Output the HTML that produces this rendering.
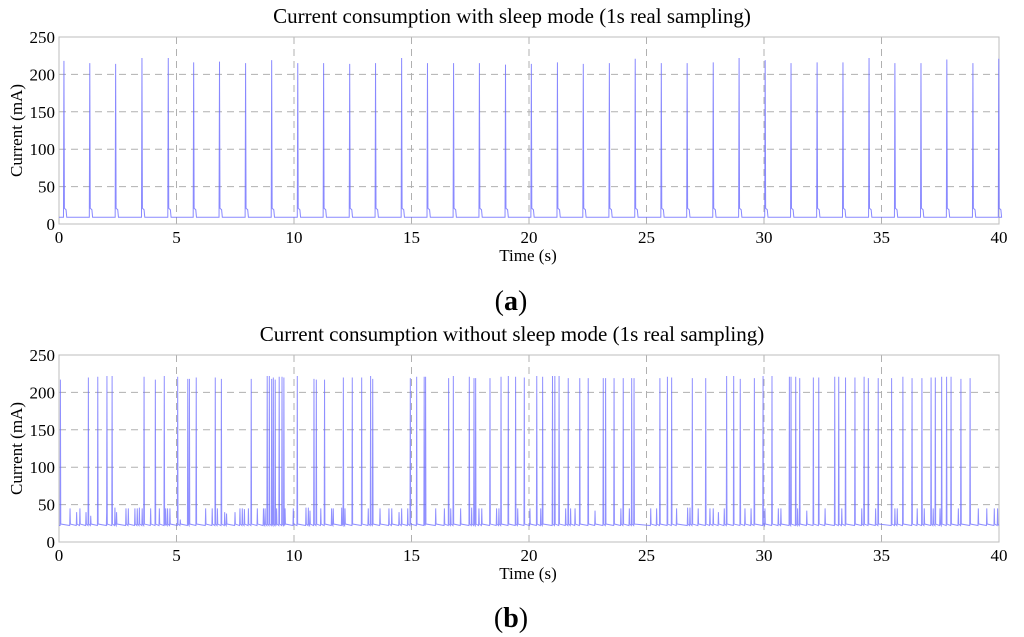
<!DOCTYPE html>
<html><head><meta charset="utf-8"><style>
html,body{margin:0;padding:0;background:#fff;}
svg{display:block;font-family:"Liberation Serif",serif;}
</style></head><body>
<svg id="chart" width="1024" height="637" viewBox="0 0 1024 637" xmlns="http://www.w3.org/2000/svg"></svg>
<script>
// Panel (a) data: spike times (s) and peak currents (mA)
const aSpikeTimes = [0.21,1.31,2.41,3.53,4.65,5.73,6.83,7.94,9.05,10.16,11.26,12.37,13.47,14.58,15.68,16.79,17.89,19.0,20.1,21.21,22.31,23.42,24.52,25.63,26.73,27.84,28.94,30.05,31.15,32.26,33.36,34.47,35.57,36.68,37.78,38.89,39.99];
const aSpikePeaks = [218,215,214,222,222,216,217,215,219,215,215,214,215,222,215,215,215,213,214,216,214,215,221,215,215,216,222,219,215,216,216,222,215,215,220,215,221];
const aBaseline = 9;
const aTail = 21;
// Panel (b) data
const bBigTimes = [0.06,1.25,1.65,2.04,2.26,3.62,4.10,4.48,5.05,5.48,5.55,5.84,6.65,6.91,8.18,8.86,8.95,9.05,9.12,9.2,9.37,9.49,9.57,10.14,10.85,10.95,11.3,12.1,12.48,12.88,13.26,13.35,14.95,15.22,15.54,15.6,16.58,16.78,17.46,17.66,17.73,18.34,18.81,19.12,19.43,19.8,20.33,20.58,21.0,21.1,21.28,21.67,22.16,22.52,23.16,23.26,23.62,24.01,24.37,24.47,25.57,25.89,26.07,26.95,27.52,28.41,28.71,28.99,29.59,29.96,30.34,31.08,31.15,31.35,31.52,32.1,32.33,33.01,33.18,33.47,33.87,34.26,34.44,34.86,35.43,35.91,36.3,36.72,37.11,37.29,37.56,37.77,37.96,38.38,38.77];
const bBigPeaks = [217,220,221,222,222,221,217,222,221,218,218,220,220,218,218,222,222,218,220,217,221,221,220,222,218,217,217,220,220,220,222,218,219,221,221,221,219,222,221,219,219,219,221,222,221,220,222,221,222,222,222,219,219,219,219,219,219,219,219,219,219,221,220,219,219,222,222,218,219,222,222,221,221,221,219,220,220,221,221,220,220,221,219,219,219,221,219,219,220,220,221,221,221,218,219];
const bSmallTimes = [0.47,0.75,0.89,1.15,1.35,2.03,2.38,2.45,2.85,2.95,3.23,3.33,3.42,3.54,3.9,4.27,4.54,4.62,4.72,5.16,6.24,6.52,6.74,7.05,7.13,7.49,7.7,7.8,7.89,8.06,8.44,8.7,8.77,9.26,9.62,9.97,10.51,10.61,10.68,11.14,11.6,11.67,12.03,12.17,13.16,13.66,14.04,14.16,14.47,14.58,14.84,16.03,16.4,16.67,17.09,17.56,17.87,17.99,18.62,18.72,19.52,20.04,20.5,21.56,21.77,21.96,22.81,23.91,24.27,25.18,25.43,26.28,26.75,26.85,27.2,27.7,27.84,28.06,28.31,29.19,29.45,30.04,30.61,30.72,31.43,31.82,32.6,33.31,34.16,34.75,35.57,35.67,36.52,36.82,37.2,37.49,38.27,39.12,39.48,39.8,39.94];
const bSmallPeaks = [45,40,45,40,35,45,46,40,45,45,45,45,46,45,45,45,45,45,45,30,45,45,45,40,38,40,45,45,44,45,45,45,45,45,45,45,46,46,42,45,45,45,46,45,45,45,45,45,40,45,45,45,45,45,45,46,45,45,45,45,45,45,45,45,45,45,42,45,45,45,45,45,46,46,45,45,45,40,45,45,45,45,45,45,45,42,45,45,45,45,45,45,45,45,45,45,45,45,45,45,45];
const bBaseline = 22;
const xTicks = [0,5,10,15,20,25,30,35,40];
const yTicks = [0,50,100,150,200,250];

const NS = "http://www.w3.org/2000/svg";
const svg = document.getElementById('chart');
function mk(tag, attrs, parent) {
  const e = document.createElementNS(NS, tag);
  for (const k in attrs) e.setAttribute(k, attrs[k]);
  (parent || svg).appendChild(e);
  return e;
}
const X0 = 59, X1 = 999;
function panel(id, top, bottom, title, label, titleY, labelY) {
  const g = mk('g', {});
  
  
  const xs = t => X0 + (t / 40) * (X1 - X0);
  const ys = v => bottom - (v / 250) * (bottom - top);
  xTicks.forEach(t => {
    if (t > 0 && t < 40) {
      const l = mk('line', {x1: xs(t), x2: xs(t), y1: top, y2: bottom, stroke: '#b0b0b0', 'stroke-dasharray': '7,5', 'stroke-width': 1}, g);
      
      
    }
    const tx = mk('text', {x: xs(t), y: bottom + 19, 'font-size': 17, 'text-anchor': 'middle', fill: '#000'}, g);
    tx.textContent = t;
    
    
  });
  yTicks.forEach(v => {
    if (v > 0 && v < 250) {
      const l = mk('line', {x1: X0, x2: X1, y1: ys(v), y2: ys(v), stroke: '#b0b0b0', 'stroke-dasharray': '7,5', 'stroke-width': 1}, g);
      
      
    }
    const tx = mk('text', {x: X0 - 4, y: ys(v) + 6, 'font-size': 17, 'text-anchor': 'end', fill: '#000'}, g);
    tx.textContent = v;
    
    
  });
  const box = mk('rect', {x: X0, y: top, width: X1 - X0, height: bottom - top, fill: 'none', stroke: '#bdbdbd', 'stroke-width': 1}, g);
  
  
  const tt = mk('text', {x: 512, y: titleY, 'font-size': 21, 'text-anchor': 'middle'}, g);
  tt.textContent = title;
  
  
  const xl = mk('text', {x: 528, y: bottom + 37, 'font-size': 17, 'text-anchor': 'middle'}, g);
  xl.textContent = 'Time (s)';
  
  
  const cy = (top + bottom) / 2;
  const yl = mk('text', {x: 22, y: cy, 'font-size': 17, 'text-anchor': 'middle', transform: `rotate(-90 22 ${cy})`}, g);
  yl.textContent = 'Current (mA)';
  
  
  const pl = mk('text', {x: 511, y: labelY, 'font-size': 28, 'text-anchor': 'middle'}, g);
  pl.innerHTML = '(<tspan font-weight="bold">' + label + '</tspan>)';
  
  
  return {g, xs, ys};
}
const pa = panel('panel-a', 37, 224, 'Current consumption with sleep mode (1s real sampling)', 'a', 23, 310);
let d = `M${pa.xs(0)},${pa.ys(aBaseline)}`;
aSpikeTimes.forEach((t, i) => {
  d += ` L${pa.xs(t - 0.02)},${pa.ys(aBaseline)} L${pa.xs(t)},${pa.ys(aSpikePeaks[i])} L${pa.xs(t + 0.02)},${pa.ys(aTail)} L${pa.xs(t + 0.09)},${pa.ys(aTail - 2)} L${pa.xs(t + 0.12)},${pa.ys(aBaseline)}`;
});
d += ` L${pa.xs(40)},${pa.ys(aBaseline)}`;
const la = mk('path', {d, fill: 'none', stroke: '#6b6bff', 'stroke-opacity': 0.8, 'stroke-width': 1}, pa.g);


const pb = panel('panel-b', 355, 542, 'Current consumption without sleep mode (1s real sampling)', 'b', 341, 627);
const ev = [];
bBigTimes.forEach((t, i) => ev.push([t, bBigPeaks[i]]));
bSmallTimes.forEach((t, i) => ev.push([t, bSmallPeaks[i]]));
ev.sort((a, b) => a[0] - b[0]);
let db = `M${pb.xs(0)},${pb.ys(bBaseline)}`;
ev.forEach(([t, v]) => {
  db += ` L${pb.xs(t - 0.015)},${pb.ys(bBaseline)} L${pb.xs(t)},${pb.ys(v)} L${pb.xs(t + 0.015)},${pb.ys(bBaseline + 2)}`;
});
db += ` L${pb.xs(40)},${pb.ys(bBaseline)}`;
const lb = mk('path', {d: db, fill: 'none', stroke: '#6b6bff', 'stroke-opacity': 0.75, 'stroke-width': 1}, pb.g);


</script>
</body></html>
